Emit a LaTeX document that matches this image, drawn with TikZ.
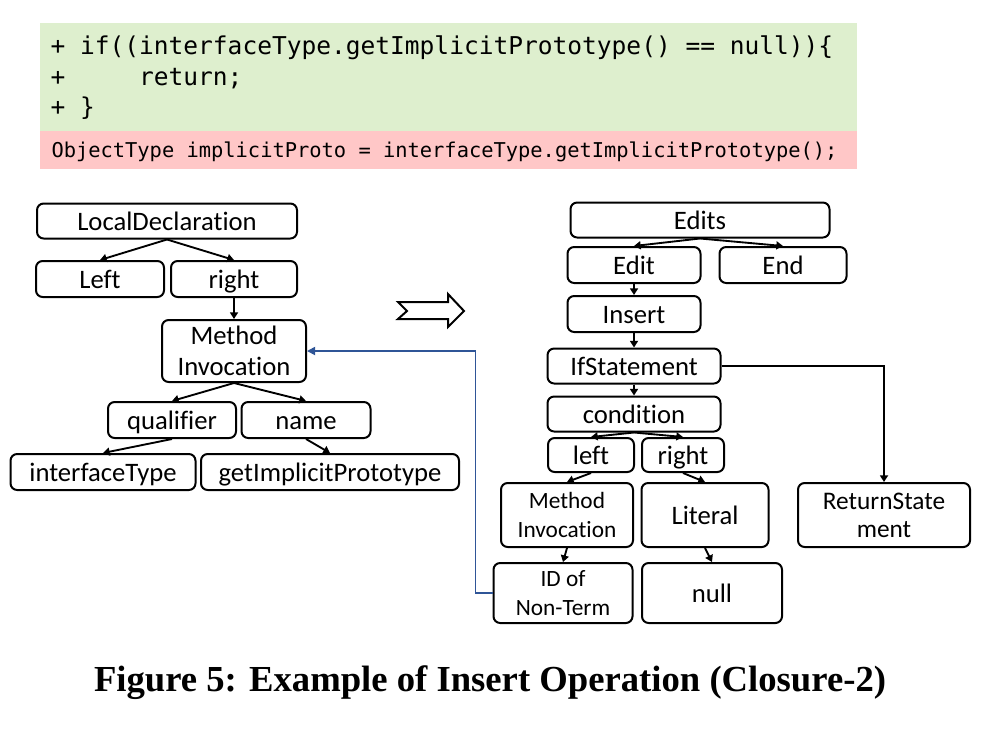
\documentclass[tikz,border=0pt]{standalone}
\usepackage{fontspec}
\setmainfont{Carlito}[Ligatures=NoCommon]
\newfontfamily\codefont{DejaVu Sans Mono}
\newfontfamily\capfont{Liberation Serif}
\usetikzlibrary{arrows.meta}
\definecolor{addgreen}{RGB}{222,239,206}
\definecolor{delpink}{RGB}{255,199,199}
\definecolor{linkblue}{RGB}{47,85,151}

\tikzset{every picture/.style={line width=0.75pt}}
\tikzset{
  astnode/.style={draw, rounded corners=5pt, line width=1.5pt, inner sep=1pt, align=center,
    font=\fontsize{20}{23.5}\selectfont},
  onerow/.style={text height=17pt, text depth=3pt},
  smalltext/.style={font=\fontsize{17.5}{21.5}\selectfont},
  treeedge/.style={line width=1.4pt, -{Triangle[length=5pt,width=6pt]}},
  codeline/.style={anchor=base west, inner sep=0pt, font=\codefont\fontsize{18.4}{22}\selectfont},
}

\begin{document}
\begin{tikzpicture}[x=0.75pt,y=0.75pt,yscale=-1,xscale=1]
\useasboundingbox (0,0) rectangle (991,729);

%Code diff
\fill [addgreen] (40,23) rectangle (857,131);
\fill [delpink] (40,131) rectangle (857,169);
\node [codeline] (code1) at (50,54) {+ if((interfaceType.getImplicitPrototype() == null))\{};
\node [codeline] (code2) at (50,85) {+\ \ \ \ \ return;};
\node [codeline] (code3) at (50,115) {+ \}};
\node [codeline, font=\codefont\fontsize{15.3}{18}\selectfont] (code4) at (51,157) {ObjectType implicitProto = interfaceType.getImplicitPrototype();};

%Left tree
\node [astnode, onerow, minimum width=195pt, minimum height=26.25pt] (locdecl) at (167,221) {LocalDeclaration};
\node [astnode, onerow, minimum width=96pt, minimum height=27pt] (left) at (100,279) {Left};
\node [astnode, onerow, minimum width=94.5pt, minimum height=27pt] (right) at (234,279) {right};
\node [astnode, minimum width=108pt, minimum height=46.5pt] (mi) at (234,351) {Method\\Invocation};
\node [astnode, onerow, minimum width=96pt, minimum height=27pt] (qual) at (172,420) {qualifier};
\node [astnode, onerow, minimum width=96.75pt, minimum height=27pt] (name) at (306,420) {name};
\node [astnode, onerow, minimum width=138.75pt, minimum height=27pt] (iftype) at (103,472) {interfaceType};
\node [astnode, onerow, minimum width=193.5pt, minimum height=27pt] (getimpl) at (330,472) {getImplicitPrototype};

\draw [treeedge] (locdecl.south) -- (left.north);
\draw [treeedge] (locdecl.south) -- (right.north);
\draw [treeedge] (right.south) -- (mi.north);
\draw [treeedge] (mi.south) -- (qual.north);
\draw [treeedge] (mi.south) -- (name.north);
\draw [treeedge] (qual.south) -- (iftype.north);
\draw [treeedge] (name.south) -- (getimpl.north);

%Hollow arrow
\draw [line width=1.5pt, line join=miter] (398,302) -- (448,302) -- (448,294) -- (464,311) -- (448,327) -- (448,319) -- (398,319) -- (407,311) -- cycle ;

%Right tree
\node [astnode, onerow, minimum width=194.25pt, minimum height=26.25pt] (edits) at (700,220) {Edits};
\node [astnode, onerow, minimum width=99.75pt, minimum height=27pt] (edit) at (634,265) {Edit};
\node [astnode, onerow, minimum width=95.25pt, minimum height=27pt] (endn) at (783,265) {End};
\node [astnode, onerow, minimum width=99.75pt, minimum height=27pt] (insert) at (634,314) {Insert};
\node [astnode, onerow, minimum width=129.75pt, minimum height=26.25pt] (ifst) at (634,366) {IfStatement};
\node [astnode, onerow, minimum width=129.75pt, minimum height=26.25pt] (cond) at (634,414) {condition};
\node [astnode, onerow, minimum width=64.5pt, minimum height=25.5pt] (leftr) at (591,455) {left};
\node [astnode, onerow, minimum width=61.5pt, minimum height=25.5pt] (rightr) at (683,455) {right};
\node [astnode, smalltext, minimum width=99pt, minimum height=48pt] (mi2) at (567,515) {Method\\Invocation};
\node [astnode, onerow, minimum width=95.25pt, minimum height=48pt] (literal) at (705,515) {Literal};
\node [astnode, font=\fontsize{19}{21}\selectfont, minimum width=129pt, minimum height=48pt] (ret) at (884,515) {ReturnState\\ment};
\node [astnode, smalltext, minimum width=104.25pt, minimum height=45pt] (idnt) at (563,593) {ID of\\Non-Term};
\node [astnode, onerow, minimum width=105pt, minimum height=45pt] (null) at (712,593) {null};

\draw [treeedge] (edits.south) -- (edit.north);
\draw [treeedge] (edits.south) -- (endn.north);
\draw [treeedge] (edit.south) -- (insert.north);
\draw [treeedge] (insert.south) -- (ifst.north);
\draw [treeedge] (ifst.south) -- (cond.north);
\draw [treeedge] (cond.south) -- (leftr.north);
\draw [treeedge] (cond.south) -- (rightr.north);
\draw [treeedge] (leftr.south) -- (mi2.north);
\draw [treeedge] (rightr.south) -- (literal.north);
\draw [treeedge] (mi2.south) -- (idnt.north);
\draw [treeedge] (literal.south) -- (null.north);
\draw [treeedge, line width=1.8pt] (ifst.east) -| (ret.north);

%Link back to the original node
\draw [linkblue, line width=1.3pt, -{Triangle[length=6pt,width=6pt]}] (idnt.west) -- ++(-17,0) |- (mi.east);

% Caption
\node [font=\capfont\bfseries\fontsize{27.5}{32}\selectfont] (caption) at (490,683) {Figure 5: Example of Insert Operation (Closure-2)};

\end{tikzpicture}
\end{document}
